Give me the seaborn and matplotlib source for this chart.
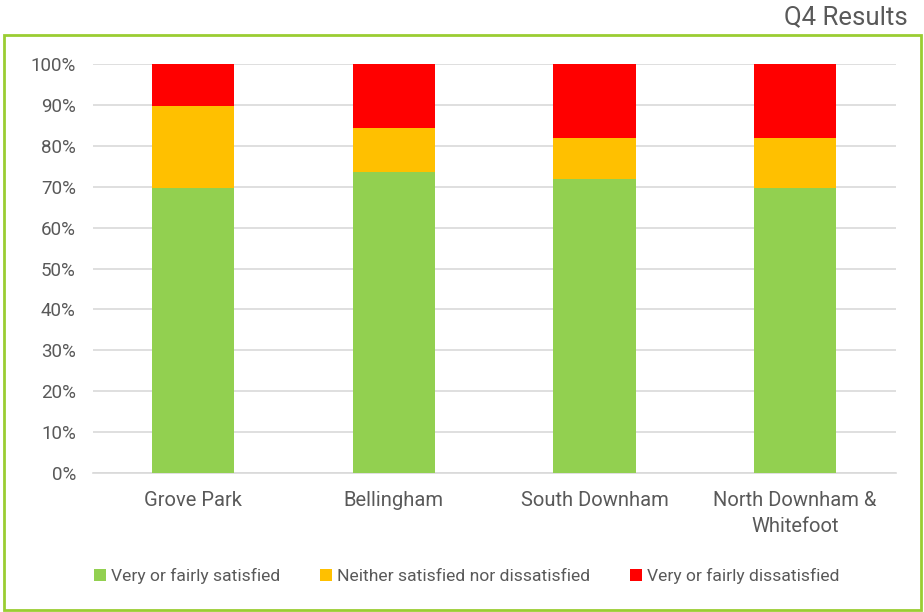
import matplotlib
matplotlib.use("Agg")
import matplotlib.pyplot as plt
from matplotlib.patches import Rectangle, Patch
from matplotlib.ticker import PercentFormatter
import seaborn as sns
import pandas as pd

areas = ["Grove Park", "Bellingham", "South Downham", "North Downham &\nWhitefoot"]
satisfied = [69.8, 73.6, 72.0, 69.7]
neither = [20.0, 10.8, 9.9, 12.1]
dissatisfied = [10.2, 15.6, 18.1, 18.2]

series_names = ["Very or fairly satisfied", "Neither satisfied nor dissatisfied",
                "Very or fairly dissatisfied"]
colors = ["#92D050", "#FFC000", "#FF0000"]

df = pd.DataFrame({"area": areas, "sat": satisfied, "nei": neither, "dis": dissatisfied})
df["top_nei"] = df["sat"] + df["nei"]
df["top_dis"] = df["top_nei"] + df["dis"]

sns.set_theme(style="white")
plt.rcParams["font.family"] = ["Roboto", "DejaVu Sans"]

fig = plt.figure(figsize=(9.24, 6.12), dpi=100)
ax = fig.add_axes([0.1002, 0.2271, 0.869, 0.6683])

# stacked bars: draw cumulative tops from the largest down
for col, c in [("top_dis", colors[2]), ("top_nei", colors[1]), ("sat", colors[0])]:
    sns.barplot(data=df, x="area", y=col, color=c, width=0.41, ax=ax,
                saturation=1, linewidth=0, zorder=3)

ax.set_ylim(0, 100)
ax.set_xlim(-0.5, 3.5)
ax.set_yticks(range(0, 101, 10))
ax.yaxis.set_major_formatter(PercentFormatter(decimals=0))
ax.grid(axis="y", color="#D9D9D9", linewidth=1.2, zorder=0)
ax.set_axisbelow(True)
for s in ["top", "right", "left"]:
    ax.spines[s].set_visible(False)
ax.spines["bottom"].set_color("#D9D9D9")
ax.spines["bottom"].set_linewidth(1.2)
ax.set_xlabel("")
ax.set_ylabel("")
ax.tick_params(axis="both", length=0, labelcolor="#595959")
ax.tick_params(axis="y", pad=12, labelsize=13.5)
ax.tick_params(axis="x", pad=13, labelsize=14.5)
for lbl in ax.get_xticklabels():
    lbl.set_linespacing(1.45)

handles = [Patch(facecolor=c, edgecolor="none") for c in colors]
fig.legend(handles, series_names, loc="center", bbox_to_anchor=(0.505, 0.059),
           ncol=3, frameon=False, fontsize=12.6, labelcolor="#595959",
           handlelength=0.7, handleheight=0.7, handletextpad=0.25,
           columnspacing=2.3)

fig.text(0.982, 0.972, "Q4 Results", ha="right", va="center", fontsize=18.5,
         color="#595959")

fig.patches.append(Rectangle((0.0043, 0.004), 0.9925, 0.9385, transform=fig.transFigure,
                             fill=False, edgecolor="#9ACD32", linewidth=2))

fig.savefig("out.png", dpi=100)
